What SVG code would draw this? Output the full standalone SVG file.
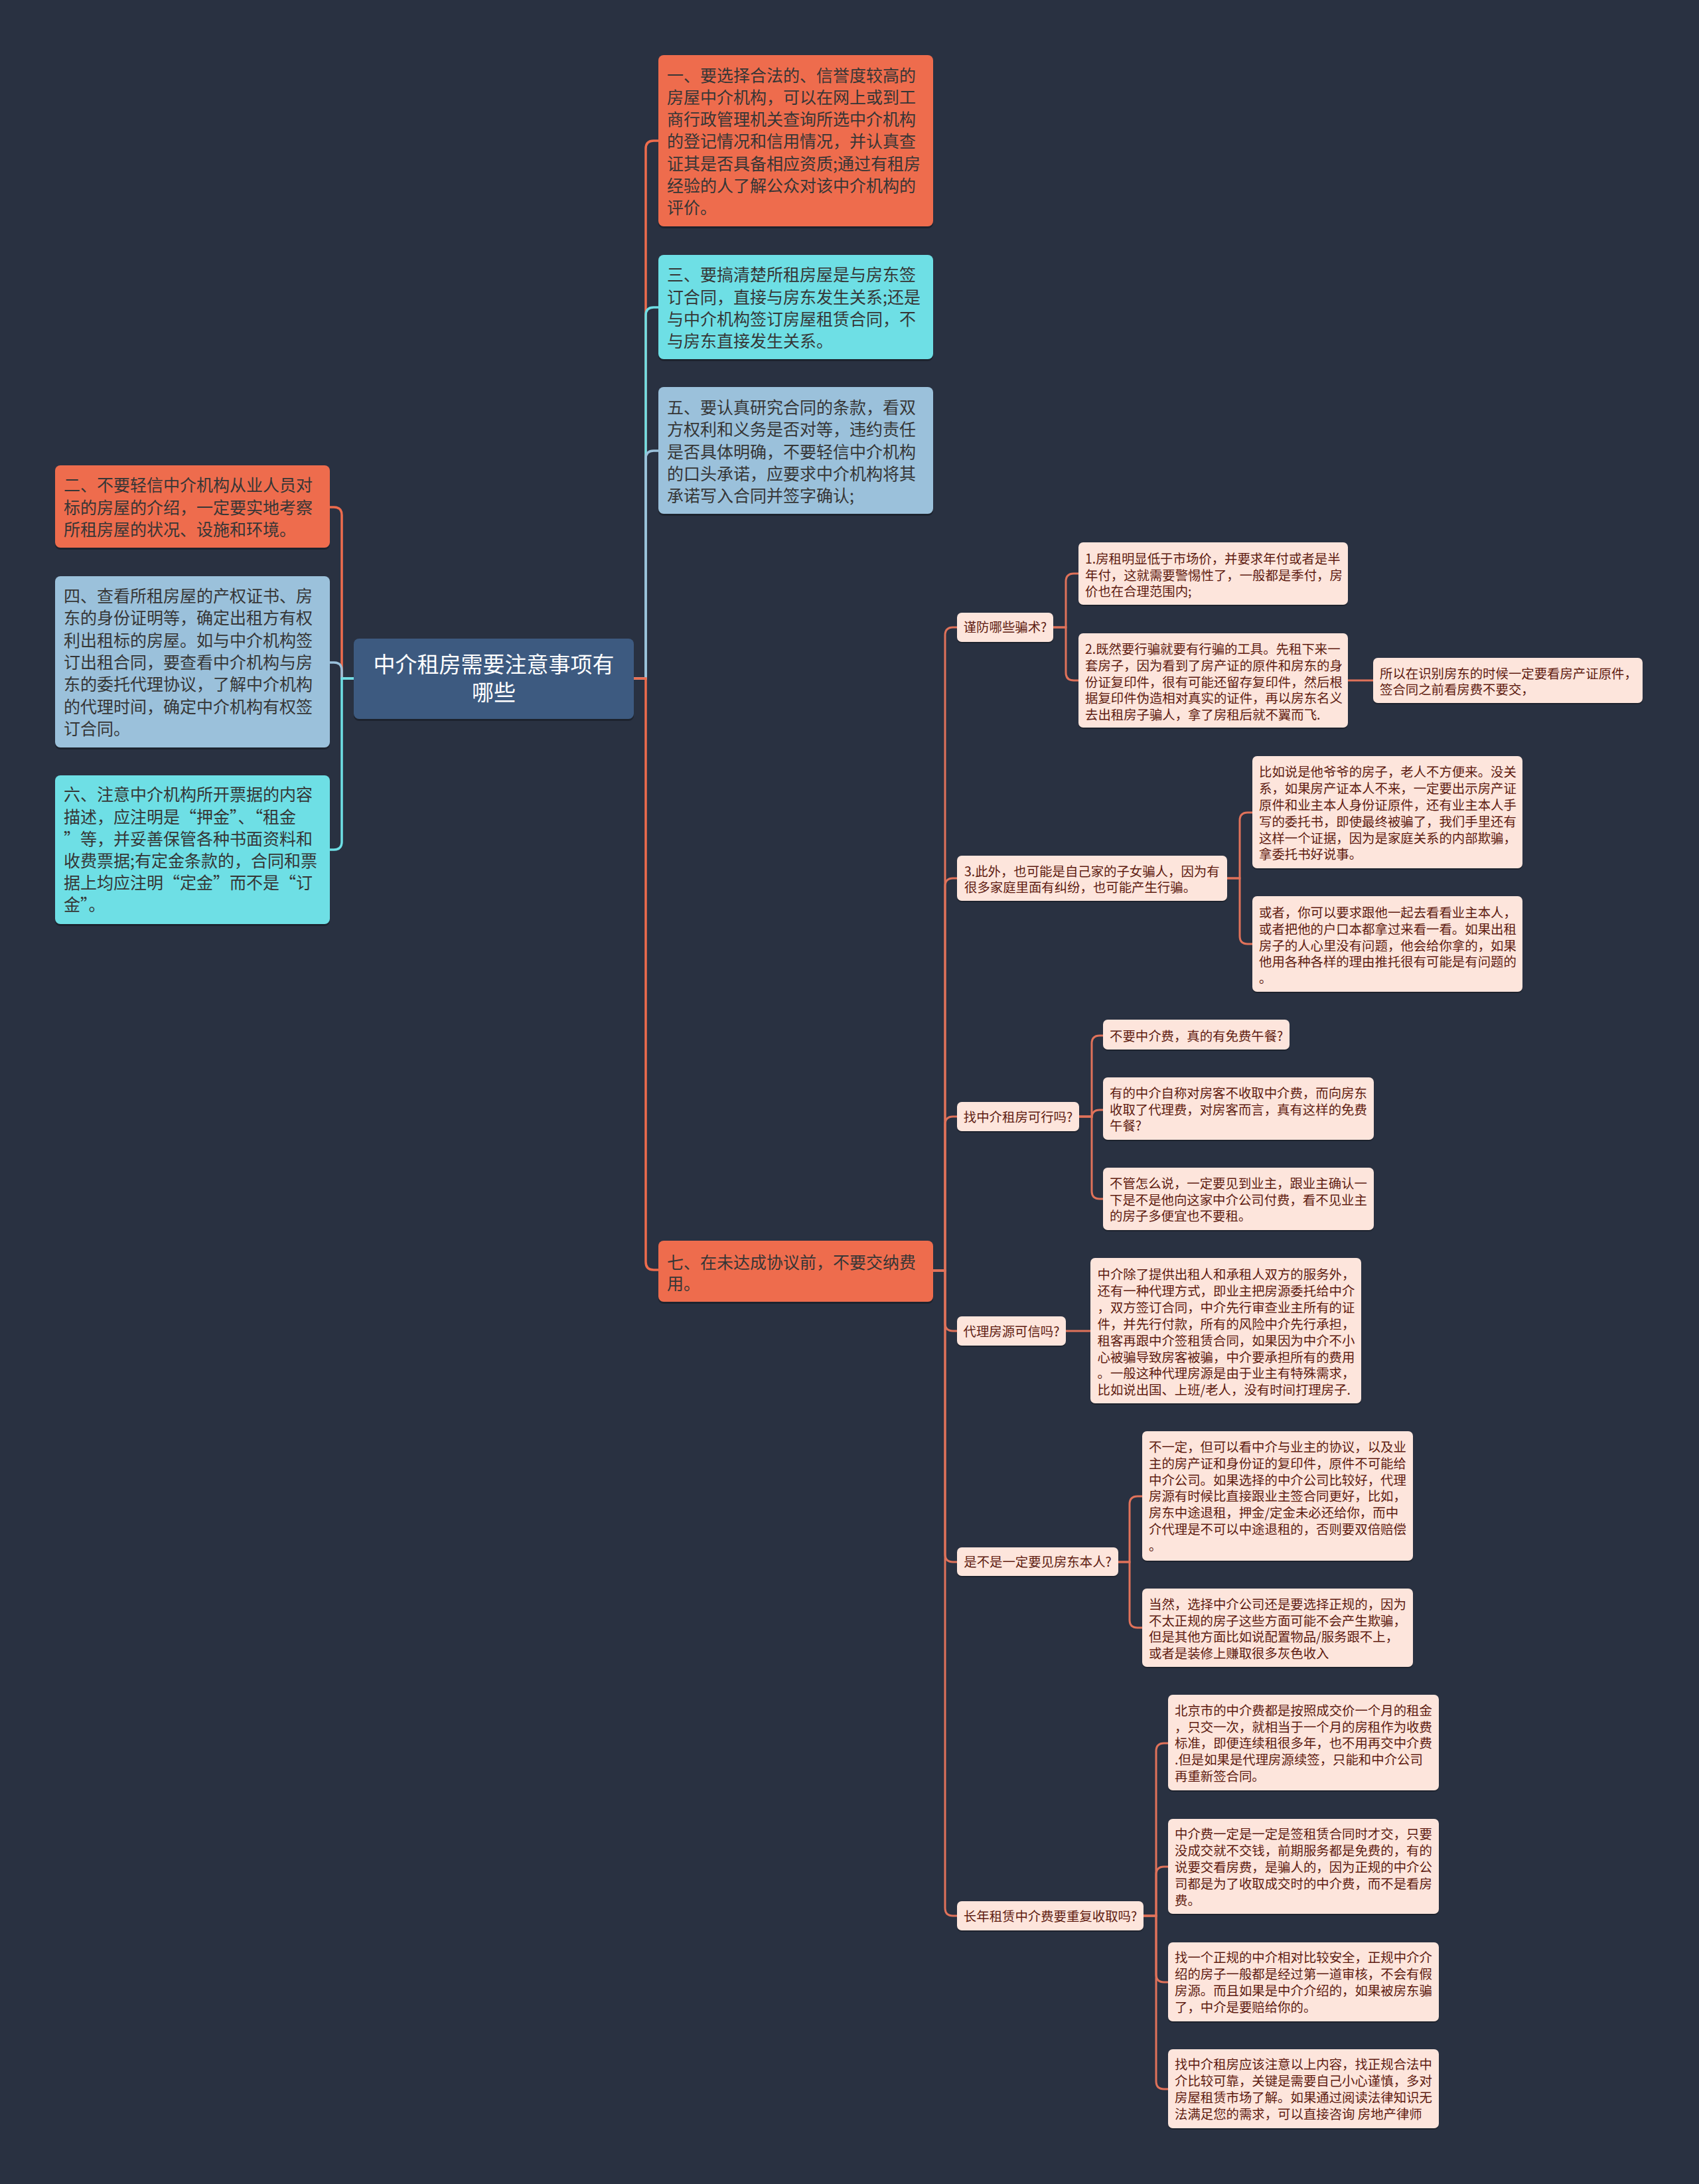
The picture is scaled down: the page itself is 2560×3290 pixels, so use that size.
<svg xmlns="http://www.w3.org/2000/svg" width="2560" height="3290" viewBox="0 0 2560 3290">
<defs>
<style>
.bg{fill:#293141}
.sh{fill:#000;opacity:0.28}
.root{fill:#3d5a80}
.o{fill:#ee6c4d}
.c{fill:#6edfe5}
.b{fill:#9bc1db}
.p{fill:#fde5dc}
.rt{font-family:"Noto Sans CJK SC","Noto Sans",sans-serif;font-size:33px;fill:#ffffff;text-anchor:middle}
.t1{font-family:"Noto Sans CJK SC","Noto Sans",sans-serif;font-size:25px;fill:#363636}
.t2{font-family:"Noto Sans CJK SC","Noto Sans",sans-serif;font-size:19.4px;fill:#5e1b10}
.t2m{font-family:"Noto Sans CJK SC","Noto Sans",sans-serif;font-size:19.4px;fill:#5e1b10;text-anchor:middle}
.lo{fill:none;stroke:#ee6c4d;stroke-width:3.5}
.lc{fill:none;stroke:#6edfe5;stroke-width:3.5}
.lb{fill:none;stroke:#9bc1db;stroke-width:3.5}
.l2{fill:none;stroke:#e0725a;stroke-width:3}
</style>
</defs>
<rect class="bg" x="0" y="0" width="2560" height="3290"/>

<g id="connectors">
<path class="lo" d="M955,1022 H973 V224 Q973,212 985,212 H992"/>
<path class="lc" d="M955,1022 H973 V475 Q973,463 985,463 H992"/>
<path class="lb" d="M955,1022 H973 V691 Q973,679 985,679 H992"/>
<path class="lo" d="M955,1022 H973 V1901 Q973,1913 985,1913 H992"/>
<path class="lo" d="M533,1022 H515 V776 Q515,764 503,764 H497"/>
<path class="lb" d="M533,1022 H515 V1010 Q515,998 503,998 H497"/>
<path class="lc" d="M533,1022 H515 V1268 Q515,1280 503,1280 H497"/>

<path class="l2" d="M1405,1914 H1424 V957 Q1424,945 1436,945 H1442"/>
<path class="l2" d="M1405,1914 H1424 V1335 Q1424,1323 1436,1323 H1442"/>
<path class="l2" d="M1405,1914 H1424 V1694 Q1424,1682 1436,1682 H1442"/>
<path class="l2" d="M1405,1914 H1424 V1993 Q1424,2005 1436,2005 H1442"/>
<path class="l2" d="M1405,1914 H1424 V2341 Q1424,2353 1436,2353 H1442"/>
<path class="l2" d="M1405,1914 H1424 V2874 Q1424,2886 1436,2886 H1442"/>

<path class="l2" d="M1587,945 H1606 V876 Q1606,864 1618,864 H1625"/>
<path class="l2" d="M1587,945 H1606 V1013 Q1606,1025 1618,1025 H1625"/>
<path class="l2" d="M2031,1025 H2069"/>

<path class="l2" d="M1849,1323 H1868 V1236 Q1868,1224 1880,1224 H1887"/>
<path class="l2" d="M1849,1323 H1868 V1410 Q1868,1422 1880,1422 H1887"/>

<path class="l2" d="M1626,1682 H1645 V1572 Q1645,1560 1657,1560 H1662"/>
<path class="l2" d="M1626,1682 H1645 V1684 Q1645,1672 1657,1672 H1662"/>
<path class="l2" d="M1626,1682 H1645 V1794 Q1645,1806 1657,1806 H1662"/>

<path class="l2" d="M1606,2005 H1643"/>

<path class="l2" d="M1685,2353 H1702 V2266 Q1702,2254 1714,2254 H1721"/>
<path class="l2" d="M1685,2353 H1702 V2440 Q1702,2452 1714,2452 H1721"/>

<path class="l2" d="M1723,2886 H1742 V2638 Q1742,2626 1754,2626 H1760"/>
<path class="l2" d="M1723,2886 H1742 V2824 Q1742,2812 1754,2812 H1760"/>
<path class="l2" d="M1723,2886 H1742 V2974 Q1742,2986 1754,2986 H1760"/>
<path class="l2" d="M1723,2886 H1742 V3135 Q1742,3147 1754,3147 H1760"/>
</g>

<g id="root">
<rect class="sh" x="533" y="965" width="422" height="121" rx="8"/>
<rect class="root" x="533" y="962" width="422" height="121" rx="8"/>
<text class="rt" x="744"><tspan x="744" y="1012.5">中介租房需要注意事项有</tspan><tspan x="744" y="1055">哪些</tspan></text>
</g>

<g id="n1">
<rect class="sh" x="992" y="86" width="414" height="258" rx="8"/>
<rect class="o" x="992" y="83" width="414" height="258" rx="8"/>
<text class="t1"><tspan x="1005" y="122.5">一、要选择合法的、信誉度较高的</tspan><tspan x="1005" y="155.8">房屋中介机构，可以在网上或到工</tspan><tspan x="1005" y="189.1">商行政管理机关查询所选中介机构</tspan><tspan x="1005" y="222.4">的登记情况和信用情况，并认真查</tspan><tspan x="1005" y="255.7">证其是否具备相应资质;通过有租房</tspan><tspan x="1005" y="289">经验的人了解公众对该中介机构的</tspan><tspan x="1005" y="322.3">评价。</tspan></text>
</g>

<g id="n3">
<rect class="sh" x="992" y="387" width="414" height="157" rx="8"/>
<rect class="c" x="992" y="384" width="414" height="157" rx="8"/>
<text class="t1"><tspan x="1005" y="423.4">三、要搞清楚所租房屋是与房东签</tspan><tspan x="1005" y="456.6">订合同，直接与房东发生关系;还是</tspan><tspan x="1005" y="489.8">与中介机构签订房屋租赁合同，不</tspan><tspan x="1005" y="523">与房东直接发生关系。</tspan></text>
</g>

<g id="n5">
<rect class="sh" x="992" y="586" width="414" height="191" rx="8"/>
<rect class="b" x="992" y="583" width="414" height="191" rx="8"/>
<text class="t1"><tspan x="1005" y="623">五、要认真研究合同的条款，看双</tspan><tspan x="1005" y="656.3">方权利和义务是否对等，违约责任</tspan><tspan x="1005" y="689.6">是否具体明确，不要轻信中介机构</tspan><tspan x="1005" y="722.9">的口头承诺，应要求中介机构将其</tspan><tspan x="1005" y="756.2">承诺写入合同并签字确认;</tspan></text>
</g>

<g id="n7">
<rect class="sh" x="992" y="1872" width="414" height="92" rx="8"/>
<rect class="o" x="992" y="1869" width="414" height="92" rx="8"/>
<text class="t1"><tspan x="1005" y="1910.5">七、在未达成协议前，不要交纳费</tspan><tspan x="1005" y="1943">用。</tspan></text>
</g>

<g id="n2">
<rect class="sh" x="83" y="704" width="414" height="124" rx="8"/>
<rect class="o" x="83" y="701" width="414" height="124" rx="8"/>
<text class="t1"><tspan x="96" y="740.3">二、不要轻信中介机构从业人员对</tspan><tspan x="96" y="773.5">标的房屋的介绍，一定要实地考察</tspan><tspan x="96" y="806.7">所租房屋的状况、设施和环境。</tspan></text>
</g>

<g id="n4">
<rect class="sh" x="83" y="871" width="414" height="258" rx="8"/>
<rect class="b" x="83" y="868" width="414" height="258" rx="8"/>
<text class="t1"><tspan x="96" y="907">四、查看所租房屋的产权证书、房</tspan><tspan x="96" y="940.3">东的身份证明等，确定出租方有权</tspan><tspan x="96" y="973.6">利出租标的房屋。如与中介机构签</tspan><tspan x="96" y="1006.9">订出租合同，要查看中介机构与房</tspan><tspan x="96" y="1040.2">东的委托代理协议，了解中介机构</tspan><tspan x="96" y="1073.5">的代理时间，确定中介机构有权签</tspan><tspan x="96" y="1106.8">订合同。</tspan></text>
</g>

<g id="n6">
<rect class="sh" x="83" y="1171" width="414" height="224" rx="8"/>
<rect class="c" x="83" y="1168" width="414" height="224" rx="8"/>
<text class="t1"><tspan x="96" y="1206.4">六、注意中介机构所开票据的内容</tspan><tspan x="96" y="1239.6">描述，应注明是“押金”、“租金</tspan><tspan x="96" y="1272.8">”等，并妥善保管各种书面资料和</tspan><tspan x="96" y="1306">收费票据;有定金条款的，合同和票</tspan><tspan x="96" y="1339.2">据上均应注明“定金”而不是“订</tspan><tspan x="96" y="1372.4">金”。</tspan></text>
</g>

<g id="q1">
<rect class="sh" x="1442" y="925" width="145" height="44" rx="7"/>
<rect class="p" x="1442" y="923" width="145" height="44" rx="7"/>
<text class="t2m" x="1514.5" y="952">谨防哪些骗术?</text>
</g>
<g id="q1a">
<rect class="sh" x="1625" y="819" width="406" height="94" rx="7"/>
<rect class="p" x="1625" y="817" width="406" height="94" rx="7"/>
<text class="t2"><tspan x="1635" y="849.3">1.房租明显低于市场价，并要求年付或者是半</tspan><tspan x="1635" y="873.6">年付，这就需要警惕性了，一般都是季付，房</tspan><tspan x="1635" y="897.9">价也在合理范围内;</tspan></text>
</g>
<g id="q1b">
<rect class="sh" x="1625" y="956" width="406" height="142" rx="7"/>
<rect class="p" x="1625" y="954" width="406" height="142" rx="7"/>
<text class="t2"><tspan x="1635" y="985.3">2.既然要行骗就要有行骗的工具。先租下来一</tspan><tspan x="1635" y="1009.9">套房子，因为看到了房产证的原件和房东的身</tspan><tspan x="1635" y="1034.5">份证复印件，很有可能还留存复印件，然后根</tspan><tspan x="1635" y="1059.1">据复印件伪造相对真实的证件，再以房东名义</tspan><tspan x="1635" y="1083.7">去出租房子骗人，拿了房租后就不翼而飞.</tspan></text>
</g>
<g id="q1b1">
<rect class="sh" x="2069" y="993" width="406" height="68" rx="7"/>
<rect class="p" x="2069" y="991" width="406" height="68" rx="7"/>
<text class="t2"><tspan x="2079" y="1022">所以在识别房东的时候一定要看房产证原件，</tspan><tspan x="2079" y="1046.3">签合同之前看房费不要交，</tspan></text>
</g>

<g id="q2">
<rect class="sh" x="1442" y="1291" width="407" height="68" rx="7"/>
<rect class="p" x="1442" y="1289" width="407" height="68" rx="7"/>
<text class="t2"><tspan x="1453" y="1319.7">3.此外，也可能是自己家的子女骗人，因为有</tspan><tspan x="1453" y="1343.7">很多家庭里面有纠纷，也可能产生行骗。</tspan></text>
</g>
<g id="q2a">
<rect class="sh" x="1887" y="1141" width="407" height="169" rx="7"/>
<rect class="p" x="1887" y="1139" width="407" height="169" rx="7"/>
<text class="t2"><tspan x="1897" y="1170.3">比如说是他爷爷的房子，老人不方便来。没关</tspan><tspan x="1897" y="1195.1">系，如果房产证本人不来，一定要出示房产证</tspan><tspan x="1897" y="1219.9">原件和业主本人身份证原件，还有业主本人手</tspan><tspan x="1897" y="1244.7">写的委托书，即使最终被骗了，我们手里还有</tspan><tspan x="1897" y="1269.5">这样一个证据，因为是家庭关系的内部欺骗，</tspan><tspan x="1897" y="1294.3">拿委托书好说事。</tspan></text>
</g>
<g id="q2b">
<rect class="sh" x="1887" y="1352" width="407" height="144" rx="7"/>
<rect class="p" x="1887" y="1350" width="407" height="144" rx="7"/>
<text class="t2"><tspan x="1897" y="1382">或者，你可以要求跟他一起去看看业主本人，</tspan><tspan x="1897" y="1406.8">或者把他的户口本都拿过来看一看。如果出租</tspan><tspan x="1897" y="1431.6">房子的人心里没有问题，他会给你拿的，如果</tspan><tspan x="1897" y="1456.4">他用各种各样的理由推托很有可能是有问题的</tspan><tspan x="1897" y="1481.2">。</tspan></text>
</g>

<g id="q3">
<rect class="sh" x="1442" y="1662" width="184" height="44" rx="7"/>
<rect class="p" x="1442" y="1660" width="184" height="44" rx="7"/>
<text class="t2m" x="1534" y="1690">找中介租房可行吗?</text>
</g>
<g id="q3a">
<rect class="sh" x="1662" y="1538" width="281" height="45" rx="7"/>
<rect class="p" x="1662" y="1536" width="281" height="45" rx="7"/>
<text class="t2" x="1672" y="1567.7">不要中介费，真的有免费午餐?</text>
</g>
<g id="q3b">
<rect class="sh" x="1662" y="1625" width="408" height="94" rx="7"/>
<rect class="p" x="1662" y="1623" width="408" height="94" rx="7"/>
<text class="t2"><tspan x="1672" y="1653.7">有的中介自称对房客不收取中介费，而向房东</tspan><tspan x="1672" y="1678.5">收取了代理费，对房客而言，真有这样的免费</tspan><tspan x="1672" y="1703.3">午餐?</tspan></text>
</g>
<g id="q3c">
<rect class="sh" x="1662" y="1761" width="408" height="94" rx="7"/>
<rect class="p" x="1662" y="1759" width="408" height="94" rx="7"/>
<text class="t2"><tspan x="1672" y="1790.3">不管怎么说，一定要见到业主，跟业主确认一</tspan><tspan x="1672" y="1814.8">下是不是他向这家中介公司付费，看不见业主</tspan><tspan x="1672" y="1839.3">的房子多便宜也不要租。</tspan></text>
</g>

<g id="q4">
<rect class="sh" x="1442" y="1985" width="164" height="44" rx="7"/>
<rect class="p" x="1442" y="1983" width="164" height="44" rx="7"/>
<text class="t2m" x="1524" y="2013">代理房源可信吗?</text>
</g>
<g id="q4a">
<rect class="sh" x="1643" y="1897" width="408" height="219" rx="7"/>
<rect class="p" x="1643" y="1895" width="408" height="219" rx="7"/>
<text class="t2"><tspan x="1653.5" y="1927">中介除了提供出租人和承租人双方的服务外，</tspan><tspan x="1653.5" y="1951.9">还有一种代理方式，即业主把房源委托给中介</tspan><tspan x="1653.5" y="1976.8">，双方签订合同，中介先行审查业主所有的证</tspan><tspan x="1653.5" y="2001.7">件，并先行付款，所有的风险中介先行承担，</tspan><tspan x="1653.5" y="2026.6">租客再跟中介签租赁合同，如果因为中介不小</tspan><tspan x="1653.5" y="2051.5">心被骗导致房客被骗，中介要承担所有的费用</tspan><tspan x="1653.5" y="2076.4">。一般这种代理房源是由于业主有特殊需求，</tspan><tspan x="1653.5" y="2101.3">比如说出国、上班/老人，没有时间打理房子.</tspan></text>
</g>

<g id="q5">
<rect class="sh" x="1442" y="2333" width="243" height="43" rx="7"/>
<rect class="p" x="1442" y="2331" width="243" height="43" rx="7"/>
<text class="t2m" x="1563.5" y="2360">是不是一定要见房东本人?</text>
</g>
<g id="q5a">
<rect class="sh" x="1721" y="2158" width="408" height="195" rx="7"/>
<rect class="p" x="1721" y="2156" width="408" height="195" rx="7"/>
<text class="t2"><tspan x="1731" y="2187">不一定，但可以看中介与业主的协议，以及业</tspan><tspan x="1731" y="2211.8">主的房产证和身份证的复印件，原件不可能给</tspan><tspan x="1731" y="2236.6">中介公司。如果选择的中介公司比较好，代理</tspan><tspan x="1731" y="2261.4">房源有时候比直接跟业主签合同更好，比如，</tspan><tspan x="1731" y="2286.2">房东中途退租，押金/定金未必还给你，而中</tspan><tspan x="1731" y="2311">介代理是不可以中途退租的，否则要双倍赔偿</tspan><tspan x="1731" y="2335.8">。</tspan></text>
</g>
<g id="q5b">
<rect class="sh" x="1721" y="2395" width="408" height="118" rx="7"/>
<rect class="p" x="1721" y="2393" width="408" height="118" rx="7"/>
<text class="t2"><tspan x="1731" y="2423.7">当然，选择中介公司还是要选择正规的，因为</tspan><tspan x="1731" y="2448.5">不太正规的房子这些方面可能不会产生欺骗，</tspan><tspan x="1731" y="2473.3">但是其他方面比如说配置物品/服务跟不上，</tspan><tspan x="1731" y="2498.1">或者是装修上赚取很多灰色收入</tspan></text>
</g>

<g id="q6">
<rect class="sh" x="1442" y="2866" width="281" height="44" rx="7"/>
<rect class="p" x="1442" y="2864" width="281" height="44" rx="7"/>
<text class="t2m" x="1582.5" y="2893.7">长年租赁中介费要重复收取吗?</text>
</g>
<g id="q6a">
<rect class="sh" x="1760" y="2555" width="408" height="144" rx="7"/>
<rect class="p" x="1760" y="2553" width="408" height="144" rx="7"/>
<text class="t2"><tspan x="1770" y="2583.7">北京市的中介费都是按照成交价一个月的租金</tspan><tspan x="1770" y="2608.5">，只交一次，就相当于一个月的房租作为收费</tspan><tspan x="1770" y="2633.3">标准，即便连续租很多年，也不用再交中介费</tspan><tspan x="1770" y="2658.1">.但是如果是代理房源续签，只能和中介公司</tspan><tspan x="1770" y="2682.9">再重新签合同。</tspan></text>
</g>
<g id="q6b">
<rect class="sh" x="1760" y="2742" width="408" height="143" rx="7"/>
<rect class="p" x="1760" y="2740" width="408" height="143" rx="7"/>
<text class="t2"><tspan x="1770" y="2770.3">中介费一定是一定是签租赁合同时才交，只要</tspan><tspan x="1770" y="2795.1">没成交就不交钱，前期服务都是免费的，有的</tspan><tspan x="1770" y="2819.9">说要交看房费，是骗人的，因为正规的中介公</tspan><tspan x="1770" y="2844.7">司都是为了收取成交时的中介费，而不是看房</tspan><tspan x="1770" y="2869.5">费。</tspan></text>
</g>
<g id="q6c">
<rect class="sh" x="1760" y="2928" width="408" height="119" rx="7"/>
<rect class="p" x="1760" y="2926" width="408" height="119" rx="7"/>
<text class="t2"><tspan x="1770" y="2956.3">找一个正规的中介相对比较安全，正规中介介</tspan><tspan x="1770" y="2981.2">绍的房子一般都是经过第一道审核，不会有假</tspan><tspan x="1770" y="3006.1">房源。而且如果是中介介绍的，如果被房东骗</tspan><tspan x="1770" y="3031">了，中介是要赔给你的。</tspan></text>
</g>
<g id="q6d">
<rect class="sh" x="1760" y="3089" width="408" height="119" rx="7"/>
<rect class="p" x="1760" y="3087" width="408" height="119" rx="7"/>
<text class="t2"><tspan x="1770" y="3117">找中介租房应该注意以上内容，找正规合法中</tspan><tspan x="1770" y="3141.9">介比较可靠，关键是需要自己小心谨慎，多对</tspan><tspan x="1770" y="3166.8">房屋租赁市场了解。如果通过阅读法律知识无</tspan><tspan x="1770" y="3191.7">法满足您的需求，可以直接咨询 房地产律师</tspan></text>
</g>
</svg>
